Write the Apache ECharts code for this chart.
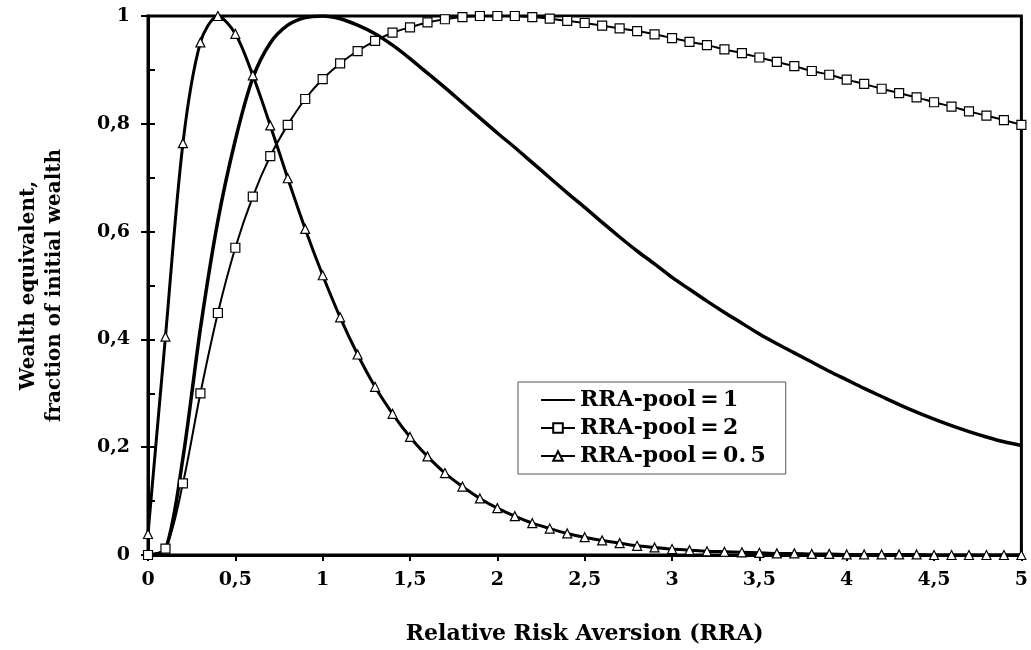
<!DOCTYPE html>
<html>
<head>
<meta charset="utf-8">
<script src="https://cdn.jsdelivr.net/npm/echarts@6/dist/echarts.min.js"></script>
<style>
html,body{margin:0;padding:0;background:#fff;}
#chart{width:1031px;height:650px;}
</style>
</head>
<body>
<div id="chart"></div>
<script>
const rra = [0,0.1,0.2,0.3,0.4,0.5,0.6,0.7,0.8,0.9,1.0,1.1,1.2,1.3,1.4,1.5,1.6,1.7,1.8,1.9,2.0,2.1,2.2,2.3,2.4,2.5,2.6,2.7,2.8,2.9,3.0,3.1,3.2,3.3,3.4,3.5,3.6,3.7,3.8,3.9,4.0,4.1,4.2,4.3,4.4,4.5,4.6,4.7,4.8,4.9,5.0];

const pool1 = [0,0.01,0.18,0.42,0.62,0.77,0.885,0.95,0.983,0.997,1.0,0.995,0.983,0.967,0.946,0.921,0.894,0.867,0.839,0.811,0.783,0.756,0.728,0.700,0.672,0.645,0.617,0.590,0.564,0.540,0.515,0.493,0.471,0.450,0.430,0.410,0.392,0.375,0.358,0.341,0.325,0.309,0.294,0.279,0.265,0.252,0.240,0.229,0.219,0.210,0.203];

const pool2 = [0,0.012,0.133,0.300,0.449,0.570,0.665,0.740,0.798,0.846,0.883,0.912,0.935,0.954,0.969,0.979,0.988,0.994,0.998,1.0,1.0,1.0,0.998,0.995,0.991,0.987,0.982,0.977,0.972,0.966,0.959,0.952,0.946,0.938,0.931,0.923,0.915,0.907,0.898,0.891,0.882,0.874,0.865,0.857,0.849,0.840,0.832,0.823,0.815,0.807,0.798];

const pool05 = [0.039,0.405,0.764,0.951,1.0,0.967,0.890,0.797,0.699,0.605,0.519,0.441,0.372,0.312,0.262,0.219,0.183,0.152,0.127,0.105,0.087,0.072,0.059,0.049,0.040,0.033,0.027,0.022,0.017,0.014,0.011,0.009,0.007,0.006,0.005,0.004,0.003,0.003,0.002,0.002,0.001,0.001,0.001,0.001,0.001,0,0,0,0,0,0];

const seriesNames = ['RRA-pool\u2009=\u20091','RRA-pool\u2009=\u20092','RRA-pool\u2009=\u20090.\u20095'];
const xTitle = 'Relative Risk Aversion (RRA)';
const yTitle = 'Wealth equivalent,\nfraction of initial wealth';

function pairs(ys){ return rra.map((x,i)=>[x, ys[i]]); }
const font = '"DejaVu Serif", "Liberation Serif", serif';
const comma = v => String(v).replace('.', ',');

const chart = echarts.init(document.getElementById('chart'));
chart.setOption({
  animation: false,
  backgroundColor: '#fff',
  grid: {left:148, right:8, top:16, bottom:94, show:true, borderColor:'#000', borderWidth:3, backgroundColor:'transparent'},
  legend: {
    orient:'vertical', left:518, top:382,
    borderColor:'#555', borderWidth:1, backgroundColor:'#fff',
    padding:[7,20,7,22],
    itemWidth:34, itemHeight:12, itemGap:6,
    textStyle:{fontFamily:font, fontWeight:'bold', fontSize:22, color:'#000'},
    data: [
      {name:seriesNames[0], itemStyle:{opacity:0}},
      {name:seriesNames[1]},
      {name:seriesNames[2]}
    ]
  },
  xAxis: {
    type:'value', min:0, max:5, interval:0.5,
    name: xTitle, nameLocation:'middle', nameGap:68,
    nameTextStyle:{fontFamily:font, fontWeight:'bold', fontSize:22, color:'#000'},
    axisLine:{lineStyle:{color:'#000', width:3}},
    axisTick:{show:true, inside:false, length:6, lineStyle:{color:'#000', width:2}},
    axisLabel:{fontFamily:font, fontWeight:'bold', fontSize:19, color:'#000', margin:16, formatter: comma},
    splitLine:{show:false}
  },
  yAxis: [{
    type:'value', min:0, max:1, interval:0.2,
    name: yTitle, nameLocation:'middle', nameGap:80, nameRotate:90,
    nameTextStyle:{fontFamily:font, fontWeight:'bold', fontSize:20, color:'#000', lineHeight:26},
    axisLine:{lineStyle:{color:'#000', width:3}},
    axisTick:{show:true, inside:false, length:7, lineStyle:{color:'#000', width:2}},
    axisLabel:{fontFamily:font, fontWeight:'bold', fontSize:19, color:'#000', margin:18, formatter: comma},
    splitLine:{show:false}
  },{
    type:'value', min:0, max:1, interval:0.1, position:'left',
    axisLine:{show:false},
    axisTick:{show:true, inside:true, length:7, lineStyle:{color:'#000', width:2}},
    axisLabel:{show:false},
    splitLine:{show:false}
  }],
  series: [
    {name:seriesNames[0], type:'line', data:pairs(pool1), smooth:0.3, symbol:'none',
     lineStyle:{color:'#000', width:3.5}, itemStyle:{color:'#000'}, z:3},
    {name:seriesNames[1], type:'line', data:pairs(pool2), smooth:0.3, symbol:'rect', symbolSize:9,
     lineStyle:{color:'#000', width:2}, itemStyle:{color:'#fff', borderColor:'#000', borderWidth:1.2}, z:4},
    {name:seriesNames[2], type:'line', data:pairs(pool05), smooth:0.3, symbol:'triangle', symbolSize:9,
     lineStyle:{color:'#000', width:3}, itemStyle:{color:'#fff', borderColor:'#000', borderWidth:1.2}, z:5}
  ]
});
</script>
</body>
</html>
